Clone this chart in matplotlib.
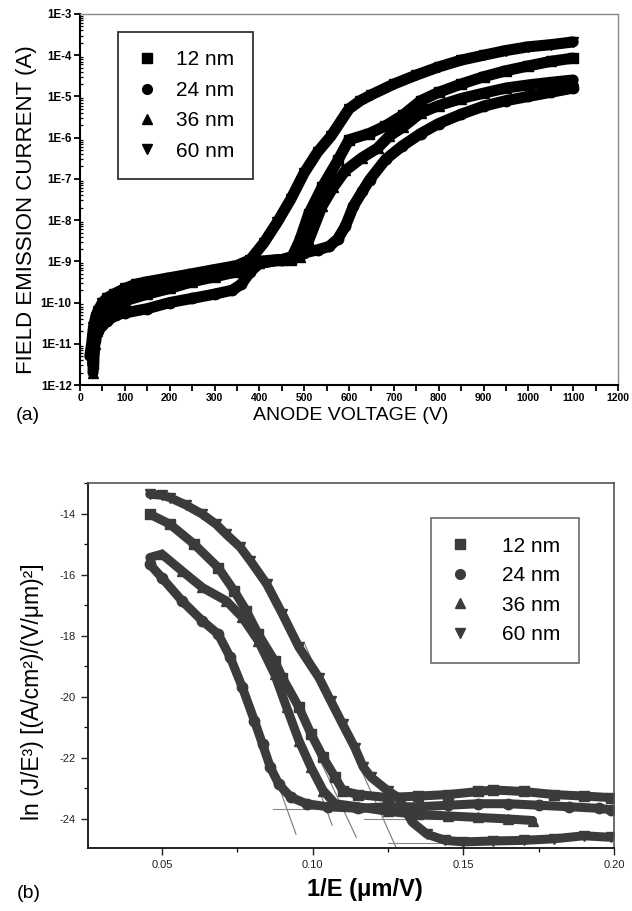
import matplotlib
matplotlib.use("Agg")
import matplotlib.pyplot as plt
from matplotlib.lines import Line2D
from matplotlib.ticker import LogLocator, NullFormatter, FixedLocator

plt.rcParams['font.family'] = ['Liberation Sans', 'DejaVu Sans']
plt.rcParams['axes.unicode_minus'] = False

# ---------------- data: panel (a) ----------------
series_labels = ["12 nm", "24 nm", "36 nm", "60 nm"]
series_markers = ["s", "o", "^", "v"]

volt_12 = [28, 32, 36, 45, 60, 80, 100, 150, 200, 250, 300, 350, 400, 440, 470, 490, 510, 540,
           575, 600, 645, 680, 720, 760, 800, 850, 900, 950, 1000, 1050, 1100]
curr_12 = [3.2e-12, 1.26e-11, 2.5e-11, 4.0e-11, 6.3e-11, 1.0e-10, 1.4e-10, 2.0e-10, 2.8e-10, 3.8e-10,
           5.0e-10, 7.1e-10, 1.0e-9, 1.1e-9, 1.1e-9, 3.2e-9, 1.4e-8, 6.3e-8, 2.8e-7, 8.9e-7, 1.26e-6,
           1.9e-6, 3.5e-6, 7.9e-6, 1.26e-5, 2.0e-5, 3.0e-5, 4.2e-5, 5.5e-5, 7.1e-5, 8.5e-5]

volt_24 = [30, 34, 40, 50, 60, 80, 100, 150, 200, 250, 300, 340, 360, 380, 400, 450, 500, 530, 556,
           575, 592, 610, 630, 646, 682, 718, 760, 800, 850, 900, 950, 1000, 1050, 1100]
curr_24 = [6.3e-12, 1.26e-11, 2.0e-11, 2.8e-11, 3.5e-11, 5.0e-11, 5.6e-11, 7.1e-11, 1.0e-10, 1.26e-10,
           1.6e-10, 2.0e-10, 2.8e-10, 5.6e-10, 8.9e-10, 1.1e-9, 1.6e-9, 1.9e-9, 2.3e-9, 3.5e-9, 7.1e-9,
           2.2e-8, 5.0e-8, 9.5e-8, 3.0e-7, 6.2e-7, 1.26e-6, 2.2e-6, 3.7e-6, 5.8e-6, 7.9e-6, 1.0e-5,
           1.26e-5, 1.6e-5]

volt_36 = [29, 33, 38, 45, 60, 80, 100, 150, 200, 250, 300, 350, 400, 450, 490, 510, 540, 565, 592,
           628, 664, 690, 720, 760, 800, 850, 900, 950, 1000, 1050, 1100]
curr_36 = [2.0e-12, 1.0e-11, 2.0e-11, 3.2e-11, 5.0e-11, 7.9e-11, 1.1e-10, 1.6e-10, 2.2e-10, 3.2e-10,
           4.2e-10, 5.6e-10, 8.9e-10, 1.1e-9, 1.26e-9, 3.2e-9, 2.2e-8, 6.3e-8, 1.6e-7, 3.2e-7, 5.6e-7,
           1.1e-6, 1.8e-6, 4.0e-6, 6.0e-6, 8.9e-6, 1.2e-5, 1.6e-5, 1.9e-5, 2.2e-5, 2.5e-5]

volt_60 = [22, 26, 30, 35, 40, 50, 60, 75, 100, 125, 150, 200, 250, 300, 350, 380, 410, 440, 470,
           500, 530, 560, 600, 625, 650, 700, 750, 800, 850, 900, 950, 1000, 1050, 1100]
curr_60 = [5.0e-12, 1.0e-11, 2.5e-11, 4.5e-11, 6.3e-11, 1.0e-10, 1.3e-10, 1.6e-10, 2.2e-10, 2.8e-10,
           3.2e-10, 4.0e-10, 5.0e-10, 6.3e-10, 7.9e-10, 1.1e-9, 2.8e-9, 8.9e-9, 3.2e-8, 1.4e-7, 4.5e-7,
           1.1e-6, 5.0e-6, 7.9e-6, 1.1e-5, 2.0e-5, 3.3e-5, 5.2e-5, 7.6e-5, 1.0e-4, 1.3e-4, 1.6e-4,
           1.8e-4, 2.1e-4]

volt_ticks = [0, 100, 200, 300, 400, 500, 600, 700, 800, 900, 1000, 1100, 1200]
volt_tick_labels = ["0", "100", "200", "300", "400", "500", "600", "700", "800", "900",
                    "1000", "1100", "1200"]
curr_ticks = [1e-12, 1e-11, 1e-10, 1e-9, 1e-8, 1e-7, 1e-6, 1e-5, 1e-4, 1e-3]
curr_tick_labels = ["1E-12", "1E-11", "1E-10", "1E-9", "1E-8", "1E-7", "1E-6", "1E-5", "1E-4", "1E-3"]

# ---------------- data: panel (b) ----------------
invE_12 = [0.046, 0.0527, 0.0607, 0.0687, 0.0740, 0.0780, 0.0820, 0.0874, 0.0900, 0.0955, 0.0995,
           0.1035, 0.1075, 0.1100, 0.1150, 0.1250, 0.1350, 0.1450, 0.1550, 0.1600, 0.1700, 0.1800,
           0.1900, 0.1990]
lnJ_12 = [-14.02, -14.35, -15.0, -15.77, -16.53, -17.18, -17.95, -18.82, -19.37, -20.35, -21.22,
          -21.98, -22.64, -23.07, -23.2, -23.3, -23.25, -23.2, -23.1, -23.05, -23.1, -23.2, -23.25,
          -23.3]

invE_24 = [0.046, 0.050, 0.0567, 0.0634, 0.0687, 0.0727, 0.0767, 0.0807, 0.0834, 0.0860, 0.0888,
           0.0928, 0.0980, 0.1050, 0.1150, 0.1250, 0.1350, 0.1450, 0.1550, 0.1650, 0.1750, 0.1850,
           0.1950, 0.1990]
lnJ_24 = [-15.66, -16.1, -16.86, -17.51, -17.95, -18.71, -19.69, -20.78, -21.55, -22.31, -22.86,
          -23.29, -23.5, -23.6, -23.65, -23.6, -23.6, -23.55, -23.5, -23.5, -23.55, -23.6, -23.65,
          -23.7]

invE_36 = [0.046, 0.050, 0.0567, 0.0634, 0.0714, 0.0767, 0.0820, 0.0874, 0.0914, 0.0955, 0.0995,
           0.1035, 0.1075, 0.1150, 0.1250, 0.1350, 0.1450, 0.1550, 0.1650, 0.1730]
lnJ_36 = [-15.44, -15.33, -15.88, -16.42, -16.86, -17.4, -18.17, -19.26, -20.35, -21.44, -22.31,
          -23.07, -23.5, -23.6, -23.75, -23.85, -23.9, -23.95, -24.0, -24.05]

invE_60 = [0.046, 0.050, 0.0527, 0.058, 0.0634, 0.0680, 0.0714, 0.0760, 0.0794, 0.0848, 0.0900,
           0.0955, 0.1021, 0.1060, 0.1100, 0.1140, 0.1168, 0.1195, 0.1249, 0.1285, 0.1330, 0.1380,
           0.1440, 0.1500, 0.1600, 0.1700, 0.1800, 0.1900, 0.1990]
lnJ_60 = [-13.37, -13.4, -13.48, -13.72, -14.02, -14.35, -14.68, -15.1, -15.55, -16.31, -17.29,
          -18.38, -19.37, -20.13, -20.9, -21.66, -22.3, -22.64, -23.07, -23.3, -24.1, -24.5, -24.7,
          -24.75, -24.72, -24.7, -24.65, -24.55, -24.6]

# straight-line fits drawn over the data (start/end of each)
fit_slope_x = [(0.072, 0.0945), (0.083, 0.1065), (0.085, 0.1145), (0.0975, 0.128)]
fit_slope_y = [(-18.3, -24.5), (-18.0, -24.2), (-18.4, -24.6), (-18.3, -25.0)]
fit_flat_x = [(0.087, 0.130), (0.117, 0.167), (0.125, 0.145)]
fit_flat_y = [-23.67, -24.0, -24.8]

invE_ticks = [0.05, 0.10, 0.15, 0.20]
invE_tick_labels = ["0.05", "0.10", "0.15", "0.20"]
invE_minor = [0.075, 0.125, 0.175]
lnJ_ticks = [-24, -22, -20, -18, -16, -14]
lnJ_tick_labels = ["-24", "-22", "-20", "-18", "-16", "-14"]
lnJ_minor = [-25, -23, -21, -19, -17, -15, -13]

W, H = 632, 911
fig = plt.figure(figsize=(W / 100, H / 100), dpi=100)

# ---------------- panel (a) ----------------
axa = fig.add_axes([80 / W, 1 - 385 / H, 538 / W, 371 / H])
for v, c, m in zip([volt_12, volt_24, volt_36, volt_60],
                   [curr_12, curr_24, curr_36, curr_60], series_markers):
    axa.plot(v, c, color='black', lw=8, marker=m, ms=7.5,
             solid_capstyle='round', solid_joinstyle='round')
axa.set_yscale('log')
axa.set_xlim(0, 1200)
axa.set_ylim(1e-12, 1e-3)
axa.set_xticks(volt_ticks, labels=volt_tick_labels)
axa.set_yticks(curr_ticks, labels=curr_tick_labels)
axa.xaxis.set_minor_locator(FixedLocator([50 + 100 * k for k in range(12)]))
axa.yaxis.set_minor_locator(LogLocator(base=10, subs=[2, 3, 4, 5, 6, 7, 8, 9], numticks=20))
axa.yaxis.set_minor_formatter(NullFormatter())
axa.tick_params(axis='both', which='major', direction='out', length=4, width=1.3,
                labelsize=7.5, pad=2)
axa.tick_params(axis='y', which='major', labelsize=8.3)
axa.tick_params(axis='x', which='minor', direction='out', length=4, width=1.3)
axa.tick_params(axis='y', which='minor', direction='in', length=2.5, width=0.9)
for lab in axa.get_xticklabels() + axa.get_yticklabels():
    lab.set_fontweight('bold')
for s in ['left', 'bottom']:
    axa.spines[s].set_linewidth(1.5)
    axa.spines[s].set_color('black')
for s in ['top', 'right']:
    axa.spines[s].set_linewidth(1.0)
    axa.spines[s].set_color('#8a8a8a')
axa.set_ylabel("FIELD EMISSION CURRENT (A)", fontsize=16)
axa.yaxis.set_label_coords(-0.100, 0.473)
axa.yaxis.label.set_va('center')
axa.set_xlabel("ANODE VOLTAGE (V)", fontsize=14)
axa.xaxis.set_label_coords(0.504, -0.081)
axa.xaxis.label.set_va('center')

handles_a = [Line2D([], [], ls='none', marker=m, color='black', ms=7) for m in series_markers]
leg_a = axa.legend(handles_a, series_labels, loc='upper left', bbox_to_anchor=(0.0706, 0.9526),
                   frameon=True, fancybox=False, edgecolor='black', fontsize=15,
                   handlelength=1.0, handletextpad=0.9, labelspacing=0.55, borderpad=0.9,
                   borderaxespad=0)
leg_a.get_frame().set_linewidth(1.3)

fig.text(16 / W, 1 - 415 / H, "(a)", fontsize=14, ha='left', va='center')

# ---------------- panel (b) ----------------
axb = fig.add_axes([88 / W, 1 - 848 / H, 526 / W, 365 / H])
for (x0, x1), (y0, y1) in zip(fit_slope_x, fit_slope_y):
    axb.plot([x0, x1], [y0, y1], color='#777777', lw=0.8, zorder=1)
for (x0, x1), y in zip(fit_flat_x, fit_flat_y):
    axb.plot([x0, x1], [y, y], color='#888888', lw=0.8, zorder=1)
for x, y, m in zip([invE_12, invE_24, invE_36, invE_60],
                   [lnJ_12, lnJ_24, lnJ_36, lnJ_60], series_markers):
    axb.plot(x, y, color='#3b3b3b', lw=6.5, marker=m, ms=7.5, zorder=2,
             solid_capstyle='round', solid_joinstyle='round')
axb.set_xlim(0.0255, 0.20)
axb.set_ylim(-24.95, -13.0)
axb.set_xticks(invE_ticks, labels=invE_tick_labels)
axb.set_yticks(lnJ_ticks, labels=lnJ_tick_labels)
axb.xaxis.set_minor_locator(FixedLocator(invE_minor))
axb.yaxis.set_minor_locator(FixedLocator(lnJ_minor))
axb.tick_params(axis='both', which='major', direction='out', length=5, width=1.0,
                labelsize=8, pad=4, colors='#222222')
axb.tick_params(axis='both', which='minor', direction='out', length=3, width=0.9)
for s in ['left', 'bottom']:
    axb.spines[s].set_linewidth(1.4)
    axb.spines[s].set_color('#222222')
for s in ['top', 'right']:
    axb.spines[s].set_linewidth(1.2)
    axb.spines[s].set_color('#555555')
axb.set_ylabel("ln (J/E³) [(A/cm²)/(V/μm)²]", fontsize=16.5)
axb.yaxis.set_label_coords(-0.106, 0.427)
axb.yaxis.label.set_va('center')
axb.set_xlabel("1/E (μm/V)", fontsize=17, fontweight='bold')
axb.xaxis.set_label_coords(0.527, -0.115)
axb.xaxis.label.set_va('center')

handles_b = [Line2D([], [], ls='none', marker=m, color='#3b3b3b', ms=7) for m in series_markers]
leg_b = axb.legend(handles_b, series_labels, loc='upper left', bbox_to_anchor=(0.652, 0.904),
                   frameon=True, fancybox=False, edgecolor='#444444', fontsize=15,
                   handlelength=1.0, handletextpad=1.5, labelspacing=0.5, borderpad=0.9,
                   borderaxespad=0)
leg_b.get_frame().set_linewidth(1.2)

fig.text(17 / W, 1 - 893 / H, "(b)", fontsize=14, ha='left', va='center')

fig.savefig("out.png", dpi=100, facecolor='white')
